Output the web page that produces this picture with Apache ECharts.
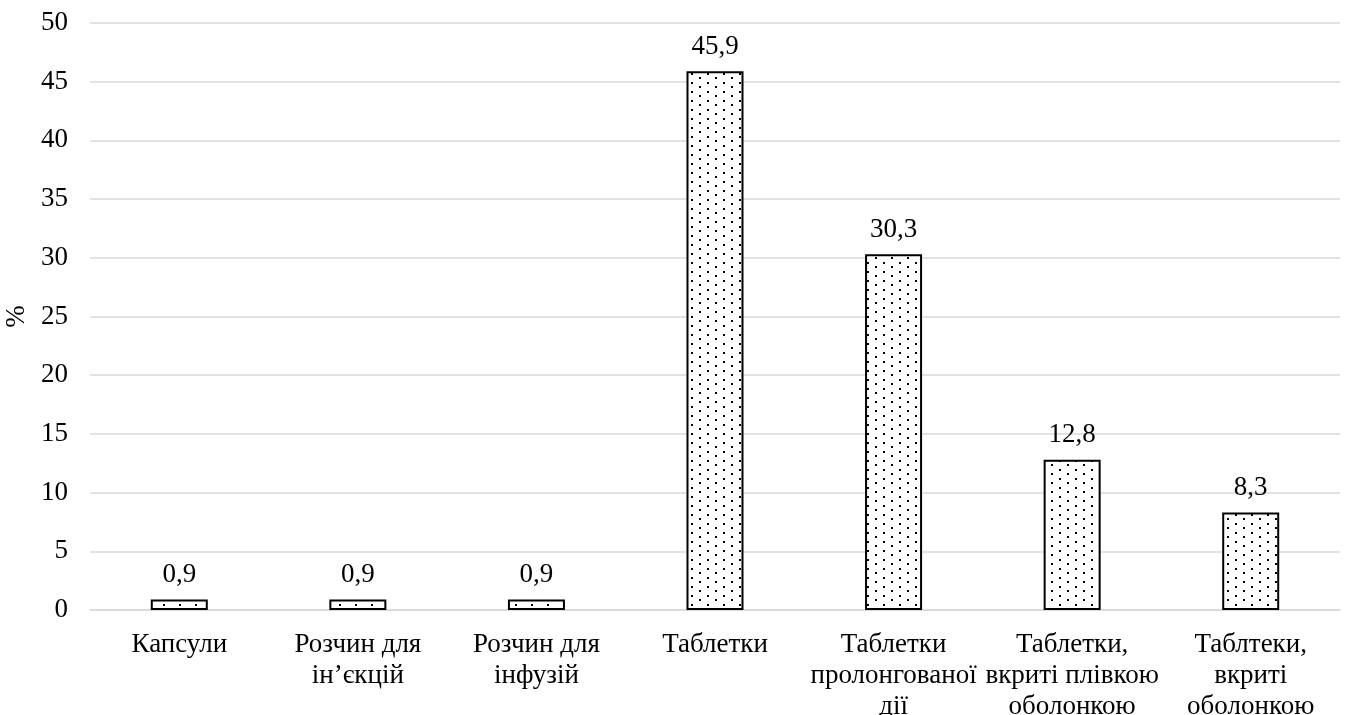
<!DOCTYPE html>
<html>
<head>
<meta charset="utf-8">
<style>
  html, body { margin: 0; padding: 0; background: #fff; }
  #chart { width: 1346px; height: 715px; }
</style>
<script src="https://cdn.jsdelivr.net/npm/echarts@6/dist/echarts.min.js"></script>
</head>
<body>
<div id="chart"></div>
<script>
// Dosage forms and their share, %
const categories = [
  'Капсули',
  'Розчин для\nін’єкцій',
  'Розчин для\nінфузій',
  'Таблетки',
  'Таблетки\nпролонгованої\nдії',
  'Таблетки,\nвкриті плівкою\nоболонкою',
  'Таблтеки,\nвкриті\nоболонкою'
];
const shares = [0.9, 0.9, 0.9, 45.9, 30.3, 12.8, 8.3];
const yTicks = { min: 0, max: 50, interval: 5 };

// Staggered dotted fill tile for the bars
function dotTile() {
  const c = document.createElement('canvas');
  c.width = 16; c.height = 9;
  const ctx = c.getContext('2d');
  ctx.fillStyle = '#fff';
  ctx.fillRect(0, 0, 16, 9);
  ctx.fillStyle = '#000';
  ctx.fillRect(3, 1, 2, 2);
  ctx.fillRect(11, 5, 2, 2);
  return c;
}

const font = '"Liberation Serif", "Times New Roman", serif';
const chart = echarts.init(document.getElementById('chart'));
chart.setOption({
  animation: false,
  textStyle: { fontFamily: font },
  grid: {
    left: 90, right: 6, top: 23, bottom: 105,
    containLabel: false,
    outerBoundsMode: 'none'
  },
  xAxis: {
    type: 'category',
    data: categories,
    axisTick: { show: false },
    axisLine: { lineStyle: { color: '#d9d9d9', width: 1.5 } },
    axisLabel: {
      interval: 0,
      color: '#000',
      fontSize: 27,
      fontFamily: font,
      lineHeight: 31,
      margin: 19
    }
  },
  yAxis: {
    type: 'value',
    min: yTicks.min,
    max: yTicks.max,
    interval: yTicks.interval,
    name: '%',
    nameLocation: 'middle',
    nameGap: 60,
    nameMoveOverlap: false,
    nameRotate: 90,
    nameTextStyle: { color: '#000', fontSize: 27, fontFamily: font },
    axisLine: { show: false },
    axisTick: { show: false },
    splitLine: { lineStyle: { color: '#d9d9d9', width: 1.5 } },
    axisLabel: { color: '#000', fontSize: 27, fontFamily: font, margin: 22 }
  },
  series: [{
    type: 'bar',
    data: shares,
    barWidth: 57,
    itemStyle: {
      color: { image: dotTile(), repeat: 'repeat' },
      borderColor: '#000',
      borderWidth: 2
    },
    label: {
      show: true,
      position: 'top',
      distance: 11,
      color: '#000',
      fontSize: 27,
      fontFamily: font,
      formatter: p => String(p.value).replace('.', ',')
    }
  }]
});
</script>
</body>
</html>
